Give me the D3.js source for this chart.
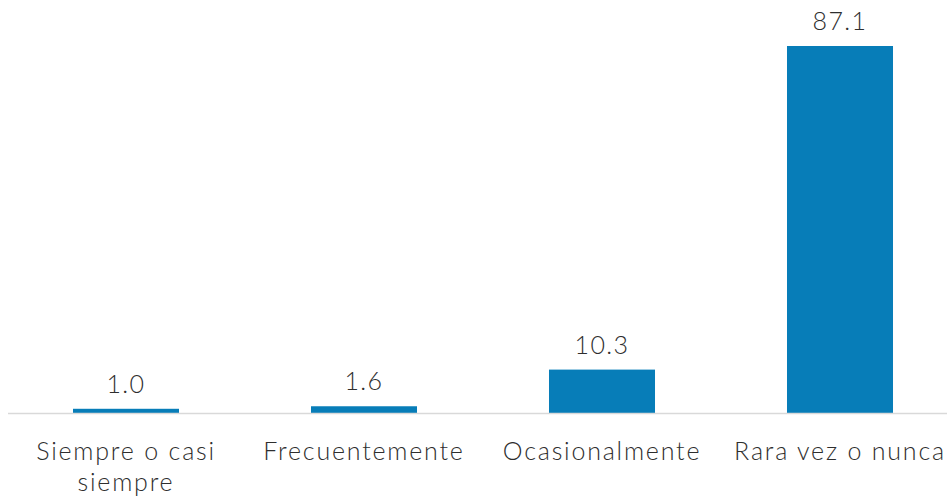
<!DOCTYPE html>
<html>
<head>
<meta charset="utf-8">
<script src="https://cdn.jsdelivr.net/npm/d3@7"></script>
<style>
  body { margin: 0; background: #fff; }
  text { font-family: Lato, "Open Sans", sans-serif; font-weight: 300; fill: #2e2e2e; }
</style>
</head>
<body>
<script>
// Data.
const categories = ['Siempre o casi siempre', 'Frecuentemente', 'Ocasionalmente', 'Rara vez o nunca'];
const values = [1.0, 1.6, 10.3, 87.1];
const labelLines = [['Siempre o casi', 'siempre'], ['Frecuentemente'], ['Ocasionalmente'], ['Rara vez o nunca']];

// Dimensions.
const size = {width: 947, height: 500};
const plot = {left: 7, right: 959, top: 46, bottom: 413};

const svg = d3.select('body')
  .append('svg')
  .attr('width', size.width)
  .attr('height', size.height);

// Scales.
const xScale = d3.scaleBand()
  .domain(categories)
  .range([plot.left, plot.right])
  .paddingInner(0.5546)
  .paddingOuter(0.2773);

const yScale = d3.scaleLinear()
  .domain([0, 87.1])
  .range([plot.bottom, plot.top]);

// Bars.
svg.selectAll('rect.bar')
  .data(values)
  .enter()
  .append('rect')
  .attr('class', 'bar')
  .attr('x', (d, i) => xScale(categories[i]))
  .attr('y', (d) => yScale(d))
  .attr('width', xScale.bandwidth())
  .attr('height', (d) => yScale(0) - yScale(d))
  .style('fill', '#077db8');

// Axis line.
svg.append('line')
  .attr('x1', plot.left + 1)
  .attr('x2', plot.right)
  .attr('y1', yScale(0) + 0.5)
  .attr('y2', yScale(0) + 0.5)
  .style('stroke', '#d9d9d9')
  .style('stroke-width', 1.5);

// Value labels.
svg.selectAll('text.value')
  .data(values)
  .enter()
  .append('text')
  .attr('class', 'value')
  .attr('x', (d, i) => xScale(categories[i]) + xScale.bandwidth() / 2)
  .attr('y', (d) => yScale(d) - 16)
  .attr('text-anchor', 'middle')
  .style('font-size', '25px')
  .style('letter-spacing', '1.4px')
  .text((d) => d.toFixed(1));

// Category labels.
const cats = svg.selectAll('text.cat')
  .data(categories)
  .enter()
  .append('text')
  .attr('class', 'cat')
  .attr('x', (d) => xScale(d) + xScale.bandwidth() / 2)
  .attr('y', 460)
  .attr('text-anchor', 'middle')
  .style('font-size', '25px')
  .style('letter-spacing', '1.8px');

cats.selectAll('tspan')
  .data((d, i) => labelLines[i])
  .enter()
  .append('tspan')
  .attr('x', function () { return d3.select(this.parentNode).attr('x'); })
  .attr('dy', (d, i) => i === 0 ? 0 : 31)
  .text((d) => d);
</script>
</body>
</html>
